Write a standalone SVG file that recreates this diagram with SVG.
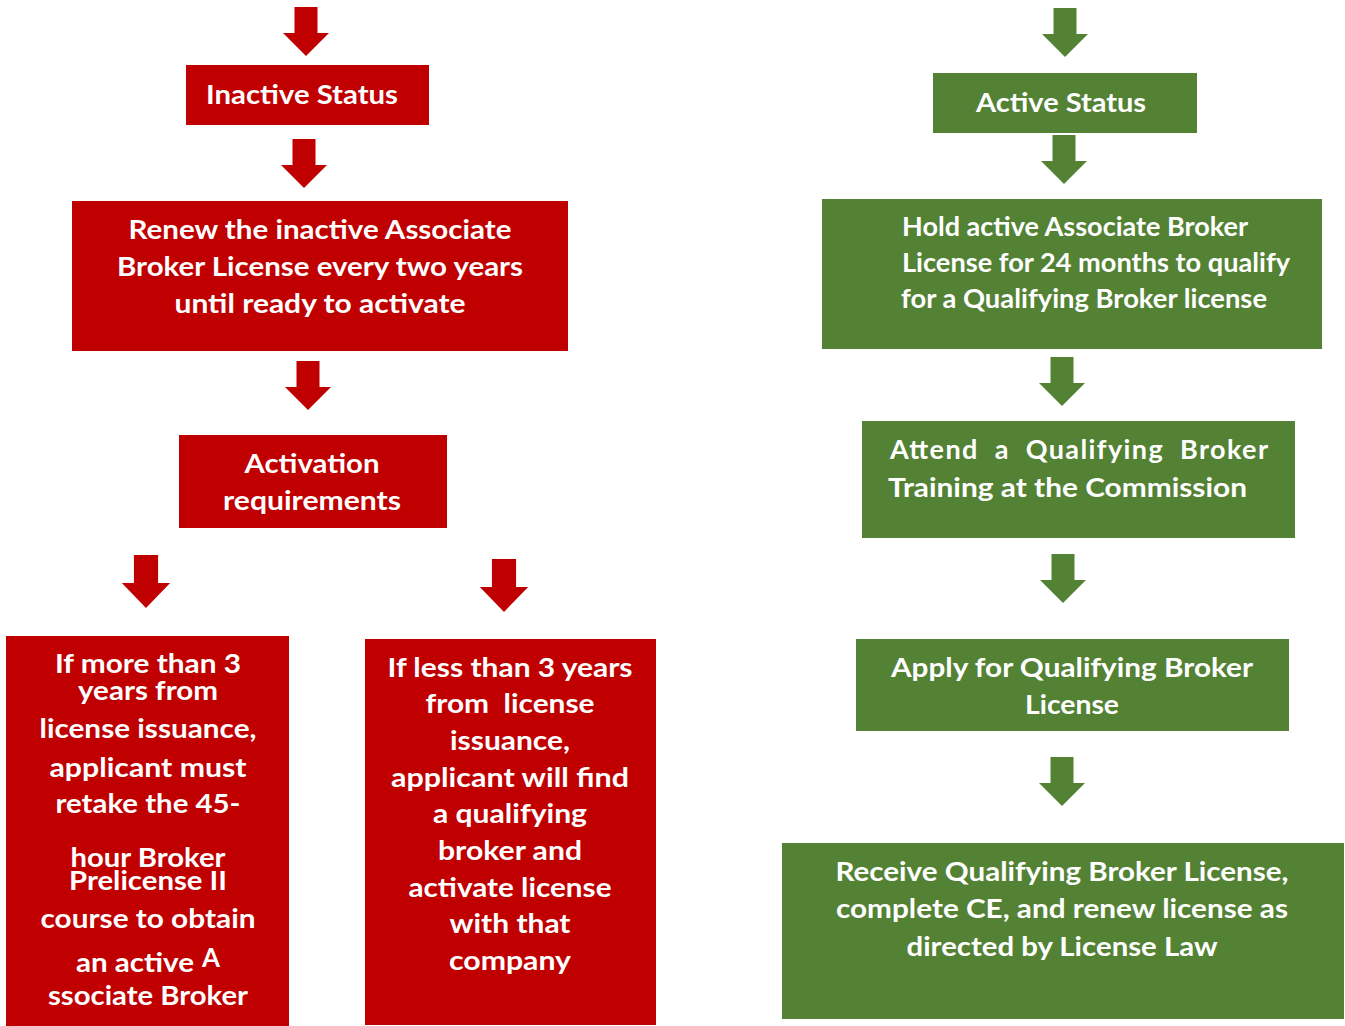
<svg xmlns="http://www.w3.org/2000/svg" xmlns:xlink="http://www.w3.org/1999/xlink" width="1345" height="1026" viewBox="0 0 1345 1026">
<style>
.red{fill:#C00000}
.green{fill:#548235}
.t{font-family:Lato,"Open Sans","Liberation Sans",sans-serif;font-weight:700;font-size:27px;fill:#FFFFFF;text-anchor:middle}
.l{text-anchor:start}
</style>
<defs>
<path id="arr" d="M-11.5,0 H11.5 V26 H23 L0,49 L-23,26 H-11.5 Z"/>
</defs>
<rect width="1345" height="1026" fill="#FFFFFF"/>
<g id="connectors">
<use xlink:href="#arr" class="red" transform="translate(306,7)"/>
<use xlink:href="#arr" class="red" transform="translate(304,139)"/>
<use xlink:href="#arr" class="red" transform="translate(308,361)"/>
<use xlink:href="#arr" class="red" transform="translate(146,555) scale(1.05,1.08)"/>
<use xlink:href="#arr" class="red" transform="translate(504,559) scale(1.05,1.08)"/>
<use xlink:href="#arr" class="green" transform="translate(1065,8)"/>
<use xlink:href="#arr" class="green" transform="translate(1064,135)"/>
<use xlink:href="#arr" class="green" transform="translate(1062,357)"/>
<use xlink:href="#arr" class="green" transform="translate(1063,554)"/>
<use xlink:href="#arr" class="green" transform="translate(1062,757)"/>
</g>
<g id="inactive">
<rect class="red" x="186" y="65" width="243" height="60"/>
<text class="t" x="302" y="104" textLength="192" lengthAdjust="spacingAndGlyphs">Inactive Status</text>
</g>
<g id="renew">
<rect class="red" x="72" y="201" width="496" height="150"/>
<text class="t" x="320" y="239" textLength="383" lengthAdjust="spacingAndGlyphs">Renew the inactive Associate</text>
<text class="t" x="320" y="276" textLength="406" lengthAdjust="spacingAndGlyphs">Broker License every two years</text>
<text class="t" x="320" y="313" textLength="291" lengthAdjust="spacingAndGlyphs">until ready to activate</text>
</g>
<g id="activation">
<rect class="red" x="179" y="435" width="268" height="93"/>
<text class="t" x="312" y="473" textLength="135" lengthAdjust="spacingAndGlyphs">Activation</text>
<text class="t" x="312" y="510" textLength="178" lengthAdjust="spacingAndGlyphs">requirements</text>
</g>
<g id="more3">
<rect class="red" x="6" y="636" width="283" height="390"/>
<text class="t" x="148" y="673" textLength="186" lengthAdjust="spacingAndGlyphs">If more than 3</text>
<text class="t" x="148" y="700" textLength="140" lengthAdjust="spacingAndGlyphs">years from</text>
<text class="t" x="148" y="738" textLength="217" lengthAdjust="spacingAndGlyphs">license issuance,</text>
<text class="t" x="148" y="777" textLength="197" lengthAdjust="spacingAndGlyphs">applicant must</text>
<text class="t" x="148" y="813" textLength="185" lengthAdjust="spacingAndGlyphs">retake the 45-</text>
<text class="t" x="148" y="867" textLength="155" lengthAdjust="spacingAndGlyphs">hour Broker</text>
<text class="t" x="148" y="890" textLength="158" lengthAdjust="spacingAndGlyphs">Prelicense II</text>
<text class="t" x="148" y="928" textLength="215" lengthAdjust="spacingAndGlyphs">course to obtain</text>
<text class="t" x="135" y="972" textLength="118" lengthAdjust="spacingAndGlyphs">an active</text>
<text class="t" x="211" y="967" textLength="18" lengthAdjust="spacingAndGlyphs">A</text>
<text class="t" x="148" y="1005" textLength="200" lengthAdjust="spacingAndGlyphs">ssociate Broker</text>
</g>
<g id="less3">
<rect class="red" x="365" y="639" width="291" height="386"/>
<text class="t" x="510" y="677" textLength="245" lengthAdjust="spacingAndGlyphs">If less than 3 years</text>
<text class="t" x="510" y="713" textLength="169" lengthAdjust="spacingAndGlyphs" xml:space="preserve">from  license</text>
<text class="t" x="510" y="750" textLength="120" lengthAdjust="spacingAndGlyphs">issuance,</text>
<text class="t" x="510" y="787" textLength="238" lengthAdjust="spacingAndGlyphs">applicant will find</text>
<text class="t" x="510" y="823" textLength="154" lengthAdjust="spacingAndGlyphs">a qualifying</text>
<text class="t" x="510" y="860" textLength="144" lengthAdjust="spacingAndGlyphs">broker and</text>
<text class="t" x="510" y="897" textLength="203" lengthAdjust="spacingAndGlyphs">activate license</text>
<text class="t" x="510" y="933" textLength="121" lengthAdjust="spacingAndGlyphs">with that</text>
<text class="t" x="510" y="970" textLength="122" lengthAdjust="spacingAndGlyphs">company</text>
</g>
<g id="active">
<rect class="green" x="933" y="73" width="264" height="60"/>
<text class="t" x="1061" y="112" textLength="170" lengthAdjust="spacingAndGlyphs">Active Status</text>
</g>
<g id="hold">
<rect class="green" x="822" y="199" width="500" height="150"/>
<text class="t l" x="902" y="236" textLength="346" lengthAdjust="spacingAndGlyphs">Hold active Associate Broker</text>
<text class="t l" x="902" y="272" textLength="388" lengthAdjust="spacingAndGlyphs">License for 24 months to qualify</text>
<text class="t l" x="901" y="308" textLength="366" lengthAdjust="spacingAndGlyphs">for a Qualifying Broker license</text>
</g>
<g id="attend">
<rect class="green" x="862" y="421" width="433" height="117"/>
<text class="t l" x="890" y="459" textLength="378" lengthAdjust="spacing" xml:space="preserve">Attend  a  Qualifying  Broker</text>
<text class="t l" x="888" y="497" textLength="359" lengthAdjust="spacingAndGlyphs">Training at the Commission</text>
</g>
<g id="apply">
<rect class="green" x="856" y="639" width="433" height="92"/>
<text class="t" x="1072" y="677" textLength="362" lengthAdjust="spacingAndGlyphs">Apply for Qualifying Broker</text>
<text class="t" x="1072" y="714" textLength="94" lengthAdjust="spacingAndGlyphs">License</text>
</g>
<g id="receive">
<rect class="green" x="782" y="843" width="562" height="176"/>
<text class="t" x="1062" y="881" textLength="453" lengthAdjust="spacingAndGlyphs">Receive Qualifying Broker License,</text>
<text class="t" x="1062" y="918" textLength="452" lengthAdjust="spacingAndGlyphs">complete CE, and renew license as</text>
<text class="t" x="1062" y="956" textLength="311" lengthAdjust="spacingAndGlyphs">directed by License Law</text>
</g>
</svg>
